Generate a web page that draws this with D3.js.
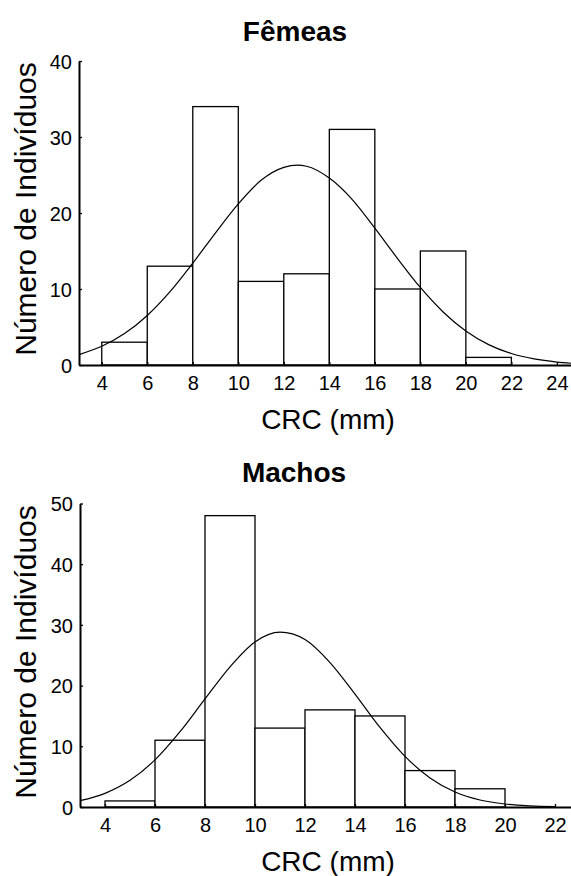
<!DOCTYPE html>
<html>
<head>
<meta charset="utf-8">
<script src="https://cdn.jsdelivr.net/npm/d3@7"></script>
<style>
  html, body { margin: 0; padding: 0; background: #fff; }
  svg { display: block; font-family: "Liberation Sans", Arial, sans-serif; }
</style>
</head>
<body>
<svg id="chart" width="571" height="876"></svg>
<script>
// ---- Data ----
const binStarts = [4, 6, 8, 10, 12, 14, 16, 18, 20];
const binWidth = 2;
const femeasCounts = [3, 13, 34, 11, 12, 31, 10, 15, 1];
const machosCounts = [1, 11, 48, 13, 16, 15, 6, 3, 0];

// fitted normal curves
const femeasCurveX = [3, 4, 5, 6, 7, 8, 9, 10, 11, 12, 12.6, 13, 14, 15, 16, 17, 18, 19, 20, 21, 22, 23, 24, 24.62];
const femeasCurveY = [1.37, 2.46, 4.13, 6.52, 9.65, 13.4, 17.4, 21.2, 24.3, 26.0, 26.3, 26.15, 24.6, 21.8, 18.0, 14.0, 10.2, 6.98, 4.47, 2.68, 1.51, 0.80, 0.39, 0.23];
const machosCurveX = [3, 4, 5, 6, 7, 8, 9, 10, 11, 12, 13, 14, 15, 16, 17, 18, 19, 20, 21, 22];
const machosCurveY = [1.04, 2.25, 4.39, 7.76, 12.4, 17.8, 23.1, 27.2, 28.8, 27.6, 23.8, 18.6, 13.1, 8.33, 4.79, 2.48, 1.16, 0.49, 0.19, 0.06];

const femeasXTicks = [4, 6, 8, 10, 12, 14, 16, 18, 20, 22, 24];
const machosXTicks = [4, 6, 8, 10, 12, 14, 16, 18, 20, 22];
const femeasYTicks = [0, 10, 20, 30, 40];
const machosYTicks = [0, 10, 20, 30, 40, 50];

const titles = ["Fêmeas", "Machos"];
const xLabel = "CRC (mm)";
const yLabel = "Número de Indivíduos";

// ---- Drawing ----
const svg = d3.select("#chart");

function panel(cfg) {
  const g = svg.append("g");
  const x = d3.scaleLinear().domain(cfg.xDomain).range([cfg.left, 571]);
  const y = d3.scaleLinear().domain(cfg.yDomain).range([cfg.bottom, cfg.top]);

  // title
  g.append("text")
    .attr("x", cfg.titleX).attr("y", cfg.titleY)
    .attr("text-anchor", "middle")
    .style("font-weight", "bold").style("font-size", "28px")
    .text(cfg.title);

  // bars
  const bars = cfg.counts.map((c, i) => ({ x0: binStarts[i], x1: binStarts[i] + binWidth, c }))
    .filter(d => d.c > 0);
  g.selectAll("rect.bar").data(bars).enter().append("rect")
    .attr("class", "bar")
    .attr("x", d => x(d.x0))
    .attr("width", d => x(d.x1) - x(d.x0))
    .attr("y", d => y(d.c))
    .attr("height", d => y(0) - y(d.c))
    .attr("fill", "#fff").attr("stroke", "#000").attr("stroke-width", 1.3);

  // curve
  const pts = cfg.curveX.map((v, i) => [v, cfg.curveY[i]]);
  g.append("path")
    .datum(pts)
    .attr("d", d3.line().x(d => x(d[0])).y(d => y(d[1])).curve(d3.curveMonotoneX))
    .attr("fill", "none").attr("stroke", "#000").attr("stroke-width", 1.2);

  // x axis (ticks inside)
  const xAxis = d3.axisBottom(x).tickValues(cfg.xTicks).tickSizeInner(-3).tickSizeOuter(0).tickPadding(12);
  const xa = g.append("g").attr("transform", `translate(0,${y(0)})`).call(xAxis);
  xa.select(".domain").attr("stroke-width", 2);
  xa.selectAll(".tick line").attr("stroke-width", 1.3);
  xa.selectAll("text").style("font-size", "20px").attr("fill", "#000")
    .attr("y", 25).attr("dy", "0");

  // y axis (ticks inside)
  const yAxis = d3.axisLeft(y).tickValues(cfg.yTicks).tickSizeInner(-3).tickSizeOuter(0).tickPadding(10);
  const ya = g.append("g").attr("transform", `translate(${cfg.left},0)`).call(yAxis);
  ya.select(".domain").attr("stroke-width", 2);
  ya.selectAll(".tick line").attr("stroke-width", 1.3);
  ya.selectAll("text").style("font-size", "20px").attr("fill", "#000").attr("x", -7).attr("dy", "0.36em");

  // x label
  g.append("text")
    .attr("x", 328).attr("y", y(0) + 64)
    .attr("text-anchor", "middle").style("font-size", "28px")
    .text(xLabel);

  // y label
  g.append("text")
    .attr("transform", `translate(36,${cfg.yLabelCenter}) rotate(-90)`)
    .attr("text-anchor", "middle").style("font-size", "30px")
    .text(yLabel);
}

panel({
  title: titles[0], titleX: 295, titleY: 41,
  xDomain: [3, 24.62], yDomain: [0, 40], left: 79, top: 61, bottom: 365,
  counts: femeasCounts, curveX: femeasCurveX, curveY: femeasCurveY,
  xTicks: femeasXTicks, yTicks: femeasYTicks, yLabelCenter: 209
});
panel({
  title: titles[1], titleX: 294, titleY: 482,
  xDomain: [3, 22.64], yDomain: [0, 50], left: 80, top: 503.5, bottom: 807,
  counts: machosCounts, curveX: machosCurveX, curveY: machosCurveY,
  xTicks: machosXTicks, yTicks: machosYTicks, yLabelCenter: 652
});
</script>
</body>
</html>
